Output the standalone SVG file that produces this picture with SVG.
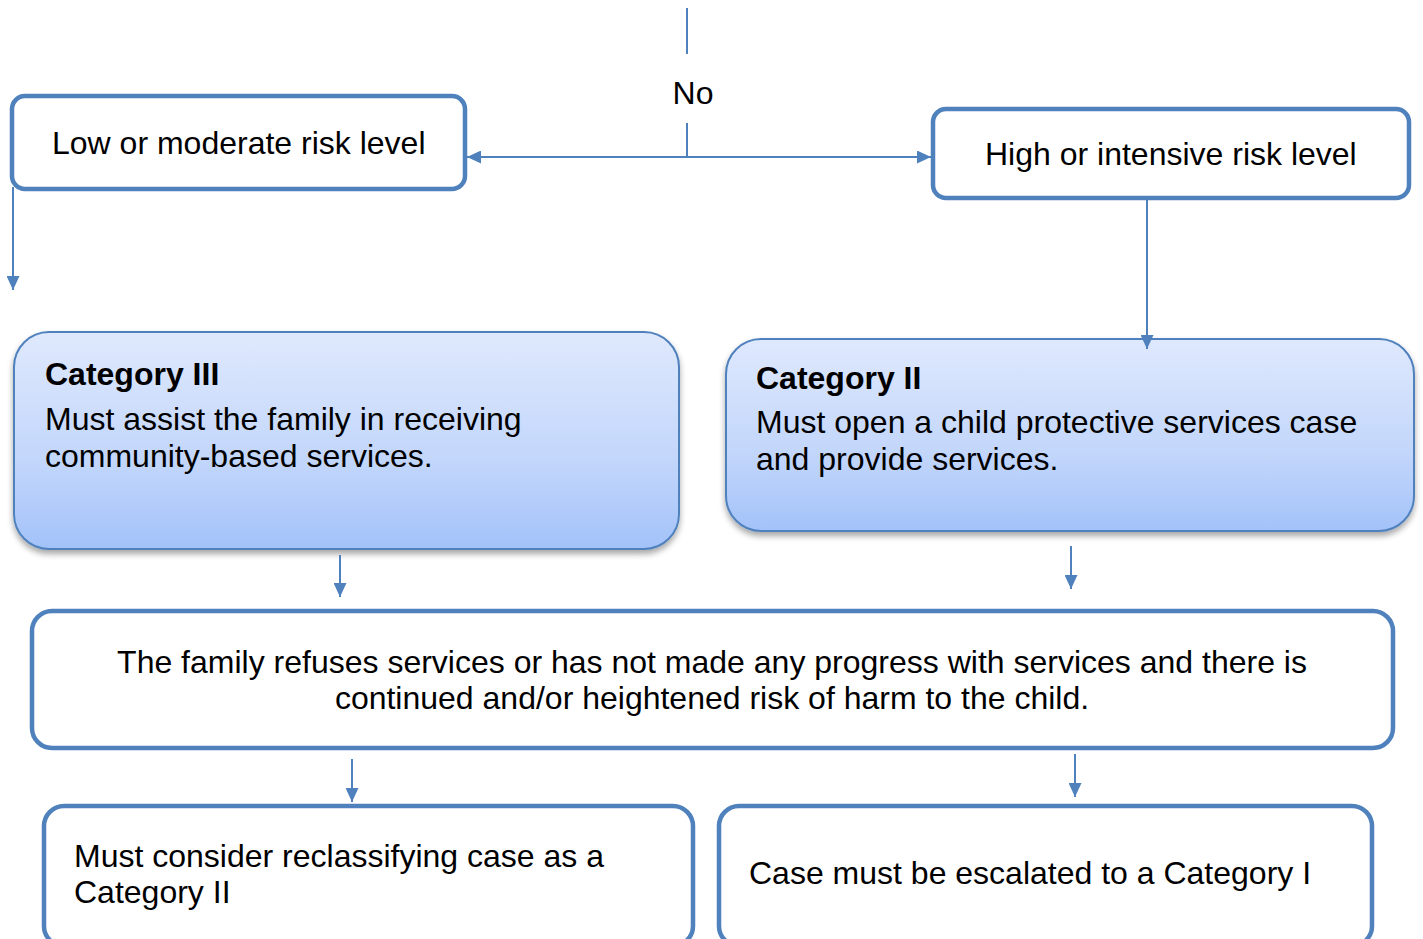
<svg xmlns="http://www.w3.org/2000/svg" width="1423" height="939" viewBox="0 0 1423 939">
<style>
.box{fill:#ffffff;stroke:#4f81bd;stroke-width:4.5}
.cat{fill:url(#g);stroke:#4f81bd;stroke-width:2}
.t{font-family:"Liberation Sans",Arial,sans-serif;font-size:32px;fill:#000}
.b{font-weight:bold}
.c{fill:none;stroke:#4f81bd;stroke-width:2}
</style>
<defs>
<linearGradient id="g" x1="0" y1="0" x2="0" y2="1">
<stop offset="0" stop-color="#dfe9fd"/>
<stop offset="0.6" stop-color="#c2d6fb"/>
<stop offset="1" stop-color="#a3c2f9"/>
</linearGradient>
<filter id="sh" x="-5%" y="-5%" width="110%" height="120%">
<feGaussianBlur in="SourceAlpha" stdDeviation="3"/>
<feOffset dx="0" dy="4"/>
<feComponentTransfer><feFuncA type="linear" slope="0.35"/></feComponentTransfer>
<feMerge><feMergeNode/><feMergeNode in="SourceGraphic"/></feMerge>
</filter>
<marker id="a" viewBox="0 0 14 13" refX="14" refY="6.5" markerWidth="7" markerHeight="6.5" markerUnits="strokeWidth" orient="auto">
<path d="M0,0 L14,6.5 L0,13 z" fill="#4f81bd"/>
</marker>
</defs>

<g id="low">
<rect class="box" x="12" y="96" width="453" height="93" rx="13"/>
<text class="t" x="52" y="154">Low or moderate risk level</text>
</g>

<g id="high">
<rect class="box" x="933" y="109" width="476" height="89" rx="13"/>
<text class="t" x="985" y="165">High or intensive risk level</text>
</g>

<g id="cat3">
<rect class="cat" filter="url(#sh)" x="14" y="332" width="665" height="217" rx="35"/>
<text class="t b" x="45" y="385">Category III</text>
<text class="t" x="45" y="430">Must assist the family in receiving</text>
<text class="t" x="45" y="467">community-based services.</text>
</g>

<g id="cat2">
<rect class="cat" filter="url(#sh)" x="726" y="339" width="688" height="192" rx="35"/>
<text class="t b" x="756" y="389">Category II</text>
<text class="t" x="756" y="433">Must open a child protective services case</text>
<text class="t" x="756" y="470">and provide services.</text>
</g>

<g id="refuse">
<rect class="box" x="32" y="611" width="1361" height="137" rx="20"/>
<text class="t" x="712" y="673" text-anchor="middle">The family refuses services or has not made any progress with services and there is</text>
<text class="t" x="712" y="709" text-anchor="middle">continued and/or heightened risk of harm to the child.</text>
</g>

<g id="reclass">
<rect class="box" x="44" y="806" width="649" height="140" rx="20"/>
<text class="t" x="74" y="867">Must consider reclassifying case as a</text>
<text class="t" x="74" y="903">Category II</text>
</g>

<g id="escalate">
<rect class="box" x="719" y="806" width="653" height="140" rx="20"/>
<text class="t" x="749" y="884">Case must be escalated to a Category I</text>
</g>

<g id="connectors">
<line class="c" x1="687" y1="8" x2="687" y2="54"/>
<line class="c" x1="687" y1="123" x2="687" y2="157"/>
<line class="c" x1="687" y1="157" x2="467" y2="157" marker-end="url(#a)"/>
<line class="c" x1="687" y1="157" x2="931" y2="157" marker-end="url(#a)"/>
<line class="c" x1="13" y1="187" x2="13" y2="290" marker-end="url(#a)"/>
<line class="c" x1="1147" y1="200" x2="1147" y2="349" marker-end="url(#a)"/>
<line class="c" x1="340" y1="555" x2="340" y2="597" marker-end="url(#a)"/>
<line class="c" x1="1071" y1="546" x2="1071" y2="589" marker-end="url(#a)"/>
<line class="c" x1="352" y1="759" x2="352" y2="802" marker-end="url(#a)"/>
<line class="c" x1="1075" y1="754" x2="1075" y2="797" marker-end="url(#a)"/>
<text class="t" x="693" y="104" text-anchor="middle">No</text>
</g>
</svg>
